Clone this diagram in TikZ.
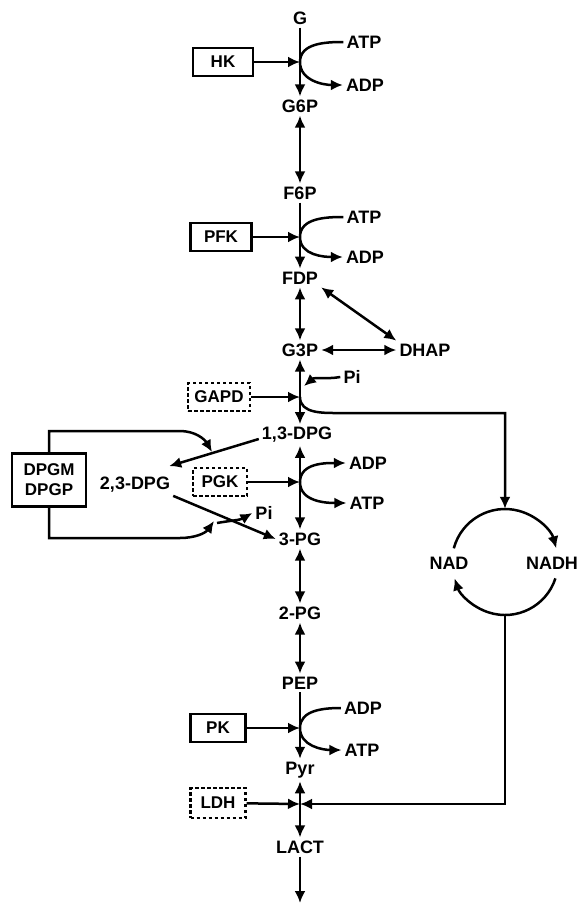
\documentclass[tikz,border=0pt]{standalone}
\usepackage{fontspec}
\setmainfont{Liberation Sans}
\usetikzlibrary{arrows.meta}

\begin{document}
\begin{tikzpicture}[x=1pt,y=1pt,
met/.style={font=\fontsize{18}{20}\selectfont\bfseries,inner sep=3pt},
enz/.style={draw,line width=2.2pt,minimum height=28pt,inner sep=2pt,
font=\fontsize{17}{19}\selectfont\bfseries},
enzdash/.style={enz,dash pattern=on 3.5pt off 2.5pt},
arr/.style={-{Latex[length=12pt,width=11pt]},line width=2.5pt},
dbl/.style={{Latex[length=12pt,width=11pt]}-{Latex[length=12pt,width=11pt]},line width=2.5pt}]
\useasboundingbox (0,0) rectangle (580,-905);
\node[met] (G) at (300,-18) {G};
\node[met] (G6P) at (300,-106) {G6P};
\node[met] (F6P) at (300,-193) {F6P};
\node[met] (FDP) at (300,-278) {FDP};
\node[met] (G3P) at (300,-350) {G3P};
\node[met] (DHAP) at (425,-350) {DHAP};
\node[met] (DPG13) at (297,-435) {1,3-DPG};
\node[met] (DPG23) at (135,-485) {2,3-DPG};
\node[met] (PG3) at (300,-539) {3-PG};
\node[met] (PG2) at (300,-613) {2-PG};
\node[met] (PEP) at (300,-683) {PEP};
\node[met] (Pyr) at (300,-770) {Pyr};
\node[met] (LACT) at (300,-847) {LACT};
\coordinate (lactend) at (300,-903);
\node[met] (ATP1) at (364,-42) {ATP};
\node[met] (ADP1) at (365,-85) {ADP};
\node[met] (ATP2) at (364,-217) {ATP};
\node[met] (ADP2) at (365,-257) {ADP};
\node[met] (Pi1) at (352,-377) {Pi};
\node[met] (ADP3) at (368,-463) {ADP};
\node[met] (ATP3) at (367,-503) {ATP};
\node[met] (Pi2) at (264,-513) {Pi};
\node[met] (ADP4) at (363,-708) {ADP};
\node[met] (ATP4) at (362,-750) {ATP};
\node[met] (NAD) at (449,-563) {NAD};
\node[met] (NADH) at (552,-563) {NADH};
\node[circle,minimum size=106pt,inner sep=0pt] (cyc) at (505,-562) {};
\node[enz,minimum width=60pt] (HK) at (223,-62) {HK};
\node[enz,minimum width=61pt] (PFK) at (221,-237) {PFK};
\node[enzdash,minimum width=62pt] (GAPD) at (219,-397) {GAPD};
\node[enzdash,minimum width=54pt] (PGK) at (220,-482) {PGK};
\node[enz,minimum width=55pt] (PK) at (218,-728) {PK};
\node[enzdash,minimum width=55pt,minimum height=30pt] (LDH) at (218,-803) {LDH};
\node[enz,minimum width=74pt,minimum height=53pt,align=center,
font=\fontsize{17}{20}\selectfont\bfseries] (DPGM) at (49,-480) {DPGM\\DPGP};
\coordinate (j1) at (300,-62); \coordinate (j2) at (300,-237);
\coordinate (j3) at (300,-397); \coordinate (j4) at (300,-482);
\coordinate (j5) at (300,-728); \coordinate (j6) at (300,-804);
\coordinate (pin) at (304,-386);
\coordinate (dpgin) at (212,-452); \coordinate (dpgout) at (214,-521);
\draw[arr] (G) -- (G6P); \draw[dbl] (G6P) -- (F6P);
\draw[arr] (F6P) -- (FDP); \draw[dbl] (FDP) -- (G3P);
\draw[dbl] (FDP.south east) -- (DHAP.north west); \draw[dbl] (G3P) -- (DHAP);
\draw[dbl] (G3P) -- (G3P |- DPG13.north); \draw[dbl] (PG3 |- DPG13.south) -- (PG3);
\draw[dbl] (PG3) -- (PG2); \draw[dbl] (PG2) -- (PEP);
\draw[arr] (PEP) -- (Pyr); \draw[dbl] (Pyr) -- (LACT);
\draw[arr] (LACT) -- (lactend);
\draw[arr] (HK) -- (j1); \draw[arr] (PFK) -- (j2); \draw[arr] (GAPD) -- (j3);
\draw[arr] (PGK) -- (j4); \draw[arr] (PK) -- (j5); \draw[arr] (LDH) -- (j6);
\draw[arr] (ATP1.west) to[out=180,in=90] (j1) to[out=-90,in=180] (ADP1.west);
\draw[arr] (ATP2.west) to[out=180,in=90] (j2) to[out=-90,in=180] (ADP2.west);
\draw[arr] (ADP4.west) to[out=180,in=90] (j5) to[out=-90,in=180] (ATP4.west);
\draw[arr] (j4) to[out=90,in=180] (ADP3.west);
\draw[arr] (j4) to[out=-90,in=180] (ATP3.west);
\draw[arr] (Pi1.west) to[out=190,in=40] (pin);
\draw[arr] (j3) to[out=-90,in=180] ++(40,-16) -| (cyc.north);
\draw[arr] (cyc.south) |- (j6);
\draw[arr] ([shift={(165:53)}]cyc.center) arc[start angle=165,end angle=15,radius=53];
\draw[arr] ([shift={(-18:53)}]cyc.center) arc[start angle=-18,end angle=-162,radius=53];
\draw[arr] ([yshift=-4pt]DPG13.west) -- ([xshift=-4pt,yshift=8pt]DPG23.north east);
\draw[arr] (DPG23.south east) -- (PG3.west);
\draw[arr] (DPGM.north) |- (180,-431) to[out=0,in=120] (dpgin);
\draw[arr] (DPGM.south) |- (180,-538) to[out=0,in=235] (dpgout);
\draw[arr] ([xshift=3pt,yshift=-2pt]dpgout) to[out=10,in=210] (Pi2.west);
\end{tikzpicture}
\end{document}
